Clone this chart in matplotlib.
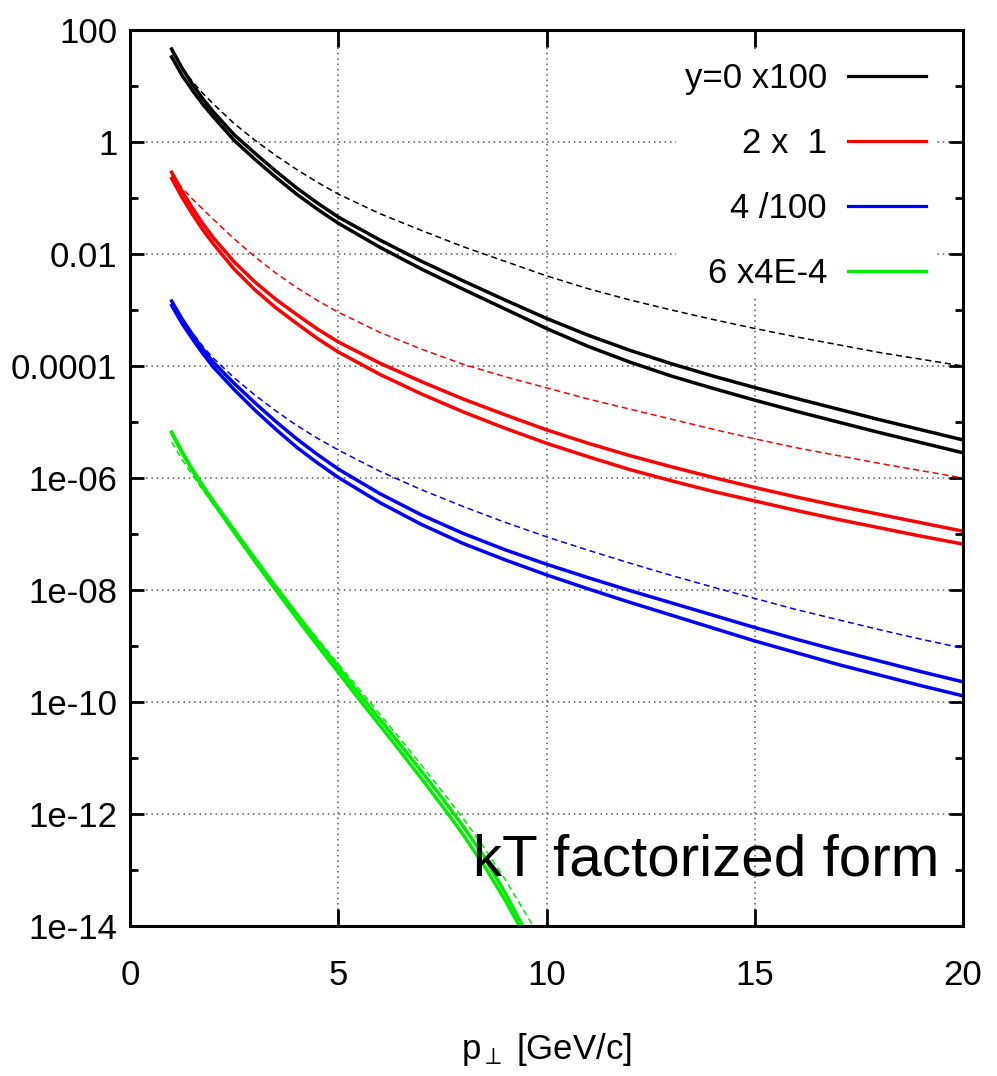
import matplotlib
matplotlib.use("Agg")
import matplotlib.pyplot as plt
import numpy as np
from matplotlib.ticker import FixedLocator, FixedFormatter, NullFormatter

# ---------------- data (log10 of the plotted quantity) ----------------
pt = [1, 1.25, 1.5, 1.75, 2, 2.5, 3, 3.5, 4, 4.5, 5, 6, 7, 8, 9, 10,
      11, 12, 13, 14, 15, 16, 17, 18, 19, 20]

black_a = [1.66, 1.32, 1.03, 0.77, 0.54, 0.13, -0.20, -0.52, -0.82, -1.09, -1.34, -1.75, -2.13, -2.48, -2.82, -3.15,
           -3.45, -3.72, -3.96, -4.18, -4.385, -4.58, -4.77, -4.96, -5.14, -5.32]
black_b = [1.52, 1.19, 0.92, 0.67, 0.45, 0.03, -0.31, -0.63, -0.93, -1.20, -1.45, -1.88, -2.27, -2.63, -2.98, -3.33,
           -3.65, -3.93, -4.18, -4.40, -4.61, -4.81, -5.00, -5.19, -5.37, -5.55]
black_d = [1.62, 1.33, 1.08, 0.87, 0.68, 0.33, 0.03, -0.24, -0.49, -0.72, -0.93, -1.28, -1.58, -1.87, -2.13, -2.39,
           -2.62, -2.82, -3.00, -3.17, -3.33, -3.48, -3.62, -3.76, -3.88, -4.00]

red_a = [-0.54, -0.88, -1.18, -1.46, -1.71, -2.14, -2.50, -2.81, -3.08, -3.34, -3.57, -3.95, -4.28, -4.59, -4.87, -5.14,
         -5.38, -5.60, -5.80, -5.99, -6.17, -6.34, -6.50, -6.65, -6.80, -6.95]
red_b = [-0.65, -0.99, -1.29, -1.57, -1.82, -2.27, -2.64, -2.96, -3.24, -3.51, -3.75, -4.15, -4.50, -4.82, -5.11, -5.38,
         -5.62, -5.85, -6.05, -6.24, -6.41, -6.58, -6.74, -6.89, -7.04, -7.18]
red_d = [-0.60, -0.82, -1.02, -1.20, -1.38, -1.73, -2.05, -2.34, -2.60, -2.83, -3.04, -3.40, -3.70, -3.97, -4.19, -4.39,
         -4.59, -4.77, -4.95, -5.13, -5.30, -5.46, -5.60, -5.74, -5.87, -6.00]

blue_a = [-2.84, -3.16, -3.44, -3.70, -3.93, -4.31, -4.66, -4.99, -5.30, -5.58, -5.84, -6.28, -6.66, -6.99, -7.28, -7.54,
          -7.78, -8.01, -8.23, -8.45, -8.67, -8.88, -9.08, -9.27, -9.46, -9.64]
blue_b = [-2.92, -3.24, -3.52, -3.78, -4.02, -4.42, -4.79, -5.13, -5.45, -5.73, -5.99, -6.44, -6.83, -7.17, -7.46, -7.73,
          -7.98, -8.22, -8.45, -8.68, -8.91, -9.12, -9.33, -9.52, -9.71, -9.89]
blue_d = [-2.86, -3.15, -3.41, -3.65, -3.86, -4.21, -4.52, -4.80, -5.06, -5.29, -5.50, -5.88, -6.21, -6.51, -6.79, -7.05,
          -7.29, -7.52, -7.74, -7.95, -8.15, -8.35, -8.53, -8.71, -8.88, -9.04]

pt_green = [1, 1.25, 1.5, 1.75, 2, 2.5, 3, 3.5, 4, 4.5, 5, 5.5, 6, 6.5, 7, 7.5, 8, 8.5, 9, 9.5]
green_a = [-5.18, -5.53, -5.85, -6.14, -6.41, -6.93, -7.44, -7.94, -8.43, -8.91, -9.38, -9.85, -10.31, -10.77,
           -11.24, -11.72, -12.22, -12.76, -13.40, -14.10]
green_b = [-5.20, -5.55, -5.87, -6.17, -6.44, -6.97, -7.49, -8.00, -8.50, -8.99, -9.47, -9.95, -10.42, -10.89,
           -11.37, -11.86, -12.37, -12.92, -13.53, -14.20]
pt_green_d = [1, 1.25, 1.5, 1.75, 2, 2.5, 3, 3.5, 4, 4.5, 5, 5.5, 6, 6.5, 7, 7.5, 8, 8.5, 9, 9.5, 9.8]
green_d = [-5.36, -5.67, -5.95, -6.22, -6.47, -6.96, -7.45, -7.93, -8.41, -8.87, -9.32, -9.77, -10.22, -10.67,
           -11.13, -11.60, -12.08, -12.60, -13.16, -13.78, -14.15]

legend_labels = ["y=0 x100", "2 x  1", "4 /100", "6 x4E-4"]
colors = ["black", "#ff0000", "#0000ff", "#00ee00"]

x_ticks = [0, 5, 10, 15, 20]
x_ticklabels = ["0", "5", "10", "15", "20"]
y_ticks = [1e2, 1, 1e-2, 1e-4, 1e-6, 1e-8, 1e-10, 1e-12, 1e-14]
y_ticklabels = ["100", "1", "0.01", "0.0001", "1e-06", "1e-08", "1e-10", "1e-12", "1e-14"]
y_minor = [1e1, 1e-1, 1e-3, 1e-5, 1e-7, 1e-9, 1e-11, 1e-13]

# ---------------- figure ----------------
fam = ["Liberation Sans", "DejaVu Sans"]
plt.rcParams["font.family"] = fam
plt.rcParams["mathtext.fontset"] = "custom"
plt.rcParams["mathtext.rm"] = "Liberation Sans"
plt.rcParams["mathtext.it"] = "Liberation Sans"

fig = plt.figure(figsize=(9.97, 10.76), dpi=100)
ax = fig.add_axes([130 / 997, 1 - 926 / 1076, 833 / 997, 896 / 1076])
ax.set_yscale("log")
ax.set_xlim(0, 20)
ax.set_ylim(1e-14, 1e2)

solid_lw = 2.5
dash_lw = 1.1
groups = [
    (pt, black_a, black_b, pt, black_d),
    (pt, red_a, red_b, pt, red_d),
    (pt, blue_a, blue_b, pt, blue_d),
    (pt_green, green_a, green_b, pt_green_d, green_d),
]
handles = []
for (xs, a, b, xd, d), c, lab in zip(groups, colors, legend_labels):
    xs = np.asarray(xs, float)
    h, = ax.plot(xs, 10.0 ** np.asarray(a), color=c, lw=solid_lw, zorder=3, label=lab)
    ax.plot(xs, 10.0 ** np.asarray(b), color=c, lw=solid_lw, zorder=3)
    ax.plot(np.asarray(xd, float), 10.0 ** np.asarray(d), color=c, lw=dash_lw,
            linestyle=(0, (4, 2.5)), zorder=3)
    handles.append(h)

# grid
for gx in [5, 10, 15]:
    ax.axvline(gx, color="#555555", lw=1.1, linestyle=(0, (1, 2.5)), zorder=1)
for gy in [1e-12, 1e-10, 1e-8, 1e-6, 1e-4, 1e-2, 1]:
    ax.axhline(gy, color="#555555", lw=1.1, linestyle=(0, (1, 2.5)), zorder=1)

# ticks
ax.xaxis.set_major_locator(FixedLocator(x_ticks))
ax.xaxis.set_major_formatter(FixedFormatter(x_ticklabels))
ax.yaxis.set_major_locator(FixedLocator(y_ticks))
ax.yaxis.set_major_formatter(FixedFormatter(y_ticklabels))
ax.yaxis.set_minor_locator(FixedLocator(y_minor))
ax.yaxis.set_minor_formatter(NullFormatter())
ax.xaxis.set_minor_locator(FixedLocator([]))
ax.tick_params(axis="both", which="major", direction="in", top=True, right=True,
               length=10, width=2.0, labelsize=25)
ax.tick_params(axis="y", which="minor", direction="in", right=True, left=True,
               length=6, width=2.0)
ax.tick_params(axis="x", which="major", pad=24, length=12)
ax.tick_params(axis="y", which="major", pad=9)
for s in ax.spines.values():
    s.set_linewidth(2.2)
    s.set_zorder(4)

ax.set_xlabel(r"p$_{\perp}$ [GeV/c]", fontsize=25, labelpad=28)

leg = ax.legend(handles=handles, loc="upper right", bbox_to_anchor=(0.966, 0.974),
                markerfirst=False, fontsize=25, handlelength=2.25, handletextpad=0.6,
                labelspacing=0.92, borderpad=0.25, borderaxespad=0.0,
                frameon=True, fancybox=False, framealpha=1.0)
leg.get_frame().set_edgecolor("none")
leg.get_frame().set_facecolor("white")
for line in leg.get_lines():
    line.set_linewidth(2.3)
leg.set_zorder(5)

ax.text(0.412, 0.056, "kT factorized form", transform=ax.transAxes, fontsize=42,
        ha="left", va="baseline", zorder=6)

fig.savefig("out.png", dpi=100)
